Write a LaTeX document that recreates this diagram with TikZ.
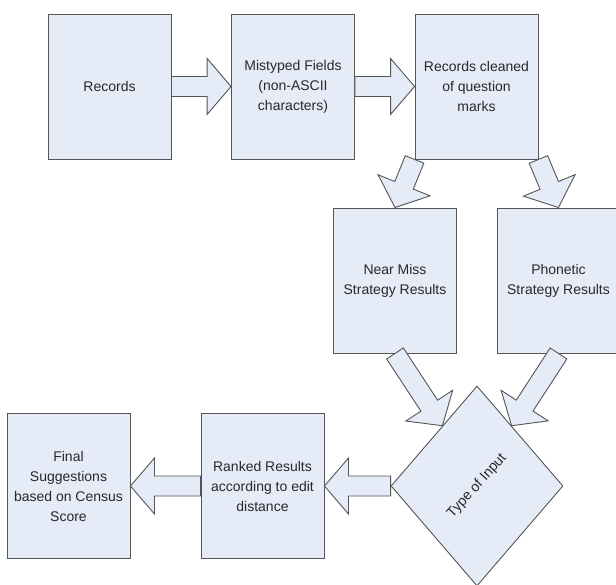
\documentclass[tikz,border=0pt]{standalone}
\usepackage{fontspec}
\setmainfont{Liberation Sans}
\usetikzlibrary{calc,shapes.geometric}
\definecolor{bf}{RGB}{230, 236, 247}
\definecolor{bd}{RGB}{85, 85, 85}
\definecolor{tx}{RGB}{40, 40, 40}
\begin{document}
\begin{tikzpicture}[
  box/.style={rectangle, minimum width=123pt, minimum height=145pt, inner sep=0pt, fill=bf, draw=bd, line width=0.9pt, align=center, text=tx, font=\fontsize{14}{20}\selectfont},
  fatarrow/.style={fill=bf, draw=bd, line width=0.9pt, line join=miter,
    to path={($(\tikztostart)!10pt!90:(\tikztotarget)$)
      -- ($(\tikztotarget)!24pt!(\tikztostart)!10pt!-90:(\tikztostart)$)
      -- ($(\tikztotarget)!24pt!(\tikztostart)!28pt!-90:(\tikztostart)$)
      -- (\tikztotarget)
      -- ($(\tikztotarget)!24pt!(\tikztostart)!28pt!90:(\tikztostart)$)
      -- ($(\tikztotarget)!24pt!(\tikztostart)!10pt!90:(\tikztostart)$)
      -- ($(\tikztostart)!10pt!-90:(\tikztotarget)$) -- cycle}}]
\useasboundingbox (0pt, 0pt) rectangle (616pt, -585pt);
\node (rec) [box] at (109.5pt, -86.5pt) {Records};
\node (mis) [box] at (293pt, -86.5pt) {Mistyped Fields\\(non-ASCII\\characters)};
\node (cln) [box] at (476.5pt, -86.5pt) {Records cleaned\\of question\\marks};
\node (near) [box] at (395pt, -280.5pt) {Near Miss\\Strategy Results};
\node (phon) [box] at (558.5pt, -280.5pt) {Phonetic\\Strategy Results};
\node (rank) [box] at (262.5pt, -486pt) {Ranked Results\\according to edit\\distance};
\node (fin) [box] at (68.5pt, -486pt) {Final\\Suggestions\\based on Census\\Score};
\node (dia) [diamond, minimum width=172pt, minimum height=200pt, inner sep=0pt, fill=bf, draw=bd, line width=0.9pt] at (477pt, -486pt) {};
\node (dialbl) [rotate=48, text=tx, font=\fontsize{14}{20}\selectfont] at (dia.center) {Type of Input};
\coordinate (dianw) at ($(dia.north)!0.4!(dia.west)$);
\coordinate (diane) at ($(dia.north)!0.4!(dia.east)$);
\draw [fatarrow] (rec.east) to (mis.west);
\draw [fatarrow] (mis.east) to (cln.west);
\draw [fatarrow] (cln.south west) to (near.north);
\draw [fatarrow] (cln.south east) to (phon.north);
\draw [fatarrow] (near.south) to (dianw);
\draw [fatarrow] (phon.south) to (diane);
\draw [fatarrow] (dia.west) to (rank.east);
\draw [fatarrow] (rank.west) to (fin.east);
\end{tikzpicture}
\end{document}
